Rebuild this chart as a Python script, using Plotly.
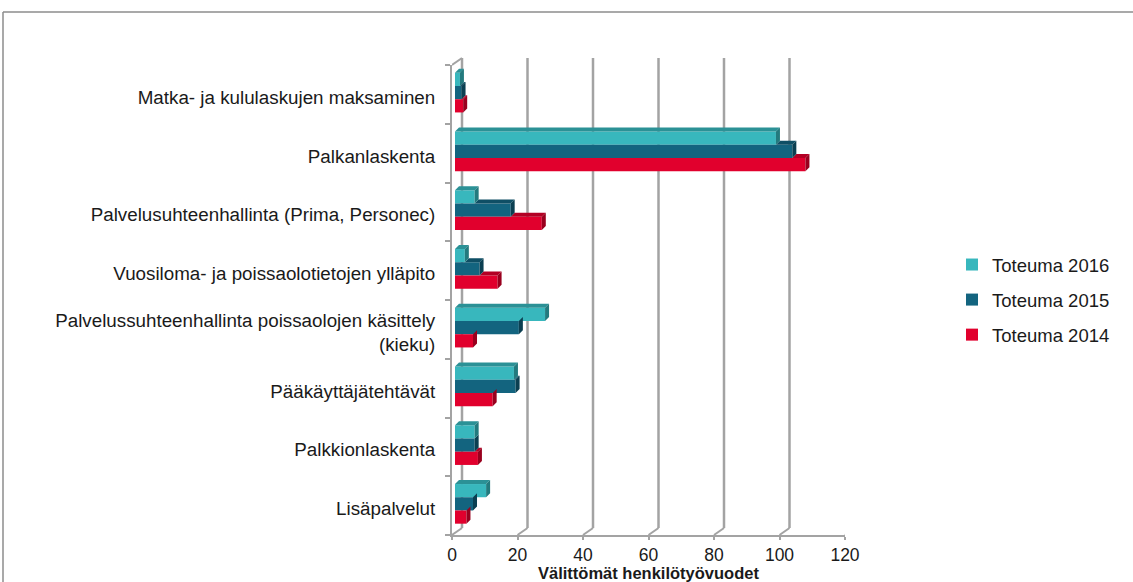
import plotly.graph_objects as go

categories = [
    "Matka- ja kululaskujen maksaminen",
    "Palkanlaskenta",
    "Palvelusuhteenhallinta (Prima, Personec)",
    "Vuosiloma- ja poissaolotietojen ylläpito",
    "Palvelussuhteenhallinta poissaolojen käsittely<br>(kieku)",
    "Pääkäyttäjätehtävät",
    "Palkkionlaskenta",
    "Lisäpalvelut",
]
toteuma_2016 = [1.5, 98, 6, 3, 27.5, 18, 6, 9.5]
toteuma_2015 = [2, 103, 17, 7.5, 19.5, 18.5, 6, 5.5]
toteuma_2014 = [2.5, 107, 26.5, 13, 5.5, 11.5, 7, 3.5]
series_names = ["Toteuma 2016", "Toteuma 2015", "Toteuma 2014"]
series_colors = ["#38b7bd", "#13647f", "#e1002d"]
top_colors = ["#2b9196", "#0f4f65", "#b30024"]
side_colors = ["#237a7e", "#0b3f51", "#99001e"]
x_ticks = [0, 20, 40, 60, 80, 100, 120]
x_title = "Välittömät henkilötyövuodet"

W, H = 1133, 582
ML, MR, MT, MB = 452, 288, 65, 47
pw = W - ML - MR
ph = H - MT - MB
XMAX = 120
ux = XMAX / pw                      # data units per pixel (x)
n = len(categories)
uy = n / ph                         # data units per pixel (y)

def py(p):                          # pixel row -> paper y
    return (H - MB - p) / ph

def px(p):                          # pixel column -> paper x
    return (p - ML) / pw

series = [toteuma_2016, toteuma_2015, toteuma_2014]
yidx = list(range(n))
bw = 0.225
center_shift = -0.03
label_shift = 0.05
depth0 = 3 * ux                     # bars sit slightly behind the front plane
fx, fy = 4 * ux, 4 * uy             # 3D face depth

fig = go.Figure()
for k, (name, vals, col) in enumerate(zip(series_names, series, series_colors)):
    fig.add_trace(go.Bar(
        y=yidx, x=vals, base=depth0, name=name, orientation="h",
        width=bw, offset=center_shift - 1.5 * bw + k * bw,
        marker=dict(color=col, line=dict(width=0)),
        legendgroup=name,
    ))

# 3D faces (drawn from bottom series to top series)
for k in [2, 1, 0]:
    vals = series[k]
    xs_side, ys_side, xs_top, ys_top = [], [], [], []
    for i, v in enumerate(vals):
        ytop = i + center_shift - 1.5 * bw + k * bw
        ybot = ytop + bw
        e = v + depth0
        xs_side += [e, e, e + fx, e + fx, e, None]
        ys_side += [ybot, ytop, ytop - fy, ybot - fy, ybot, None]
        x0 = depth0 if k == 0 else series[k - 1][i] + depth0
        if e > x0:
            xs_top += [x0, e, e + fx, x0 + fx, x0, None]
            ys_top += [ytop, ytop, ytop - fy, ytop - fy, ytop, None]
    fig.add_trace(go.Scatter(x=xs_top, y=ys_top, fill="toself", mode="none",
                             fillcolor=top_colors[k], showlegend=False, hoverinfo="skip"))
    fig.add_trace(go.Scatter(x=xs_side, y=ys_side, fill="toself", mode="none",
                             fillcolor=side_colors[k], showlegend=False, hoverinfo="skip"))

grid_col = "#a3a3a3"
back_dx = 10 * ux
for t in x_ticks:
    fig.add_shape(type="line", xref="x", yref="paper",
                  x0=t + back_dx, x1=t + back_dx, y0=py(528), y1=py(58),
                  line=dict(color=grid_col, width=2.5), layer="below")
    fig.add_shape(type="line", xref="x", yref="paper",
                  x0=t, x1=t + back_dx, y0=py(535), y1=py(528),
                  line=dict(color=grid_col, width=2), layer="below")
fig.add_shape(type="line", xref="x", yref="paper",
              x0=0, x1=back_dx, y0=py(65), y1=py(58),
              line=dict(color=grid_col, width=2), layer="below")

# outer chart border (top and left edges visible)
border = dict(color="#8c8c8c", width=1.5)
fig.add_shape(type="line", xref="paper", yref="paper",
              x0=px(3), x1=px(W + 5), y0=py(12), y1=py(12), line=border, layer="below")
fig.add_shape(type="line", xref="paper", yref="paper",
              x0=px(3), x1=px(3), y0=py(12), y1=py(H + 5), line=border, layer="below")

# x-axis title
fig.add_annotation(text="<b>" + x_title + "</b>", xref="paper", yref="paper",
                   x=0.5, y=py(572.5), xanchor="center", yanchor="middle",
                   showarrow=False, font=dict(size=16.5, color="#1a1a1a"))

FS = 18.5
fig.update_layout(
    width=W, height=H,
    margin=dict(l=ML, r=MR, t=MT, b=MB, autoexpand=False),
    paper_bgcolor="white", plot_bgcolor="white",
    barmode="overlay",
    font=dict(family="Liberation Sans, Arial, sans-serif", size=FS, color="#1a1a1a"),
    showlegend=True,
    legend=dict(x=px(952), xanchor="left", xref="paper", y=0.5, yanchor="middle",
                font=dict(size=FS, color="#1a1a1a"), tracegroupgap=8,
                itemwidth=30, bgcolor="rgba(0,0,0,0)"),
    xaxis=dict(range=[0, XMAX], tickvals=x_ticks, showgrid=False, zeroline=False,
               automargin=False,
               showline=True, linecolor=grid_col, linewidth=2,
               ticks="outside", ticklen=3, tickcolor=grid_col, tickwidth=2,
               tickfont=dict(size=17.5)),
    yaxis=dict(range=[n - 0.5, -0.5], tickvals=[i + label_shift for i in yidx],
               ticktext=categories,
               automargin=False,
               showline=True, linecolor=grid_col, linewidth=2,
               ticks="", showgrid=False, zeroline=False,
               minor=dict(tickvals=[i - 0.5 for i in range(n + 1)], ticks="outside",
                          ticklen=5, tickcolor=grid_col, tickwidth=2),
               ticklabelstandoff=11, tickfont=dict(size=18.8)),
)

fig.write_html("out.html", config={"displayModeBar": False},
               post_script="document.body.style.margin='0';")
